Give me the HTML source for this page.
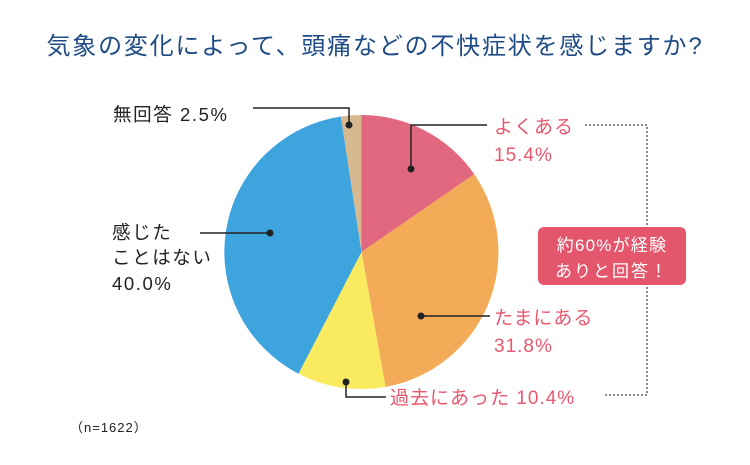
<!DOCTYPE html>
<html><head><meta charset="utf-8"><style>
body{margin:0;width:750px;height:460px;background:#fff;overflow:hidden;font-family:"Liberation Sans","Noto Sans CJK JP",sans-serif}
svg text{font-family:"Liberation Sans","Noto Sans CJK JP",sans-serif}
</style></head><body>
<svg width="750" height="460" viewBox="0 0 750 460">
<text x="375" y="54" text-anchor="middle" font-size="24" letter-spacing="1.8" fill="#1f4b86">気象の変化によって、頭痛などの不快症状を感じますか?</text>
<g stroke="none">
<path d="M361.5,252 L361.5,115 A137,137 0 0 1 474.3,174.3 Z" fill="#e2687f"/>
<path d="M361.5,252 L474.3,174.3 A137,137 0 0 1 385.5,386.9 Z" fill="#f4ab57"/>
<path d="M361.5,252 L385.5,386.9 A137,137 0 0 1 298.5,373.7 Z" fill="#faea60"/>
<path d="M361.5,252 L298.5,373.7 A137,137 0 0 1 340.9,116.5 Z" fill="#3ea4de"/>
<path d="M361.5,252 L340.9,116.5 A137,137 0 0 1 361.5,115 Z" fill="#d7b98f"/>
</g>
<g stroke="#222" stroke-width="1.5" fill="none">
<polyline points="411,169 411,125 487,125"/>
<polyline points="421,316 490,316"/>
<polyline points="346,382 346,397 386,397"/>
<polyline points="270,233 200,233"/>
<polyline points="349,125 349,108 253,108"/>
</g>
<g fill="#222"><circle cx="411" cy="169" r="3.5"/><circle cx="421" cy="316" r="3.5"/><circle cx="346" cy="382" r="3.5"/><circle cx="270" cy="233" r="3.5"/><circle cx="349" cy="125" r="3.5"/></g>
<g stroke="#888" stroke-width="2" stroke-dasharray="2,2" fill="none">
<polyline points="585,125 647,125 647,395 605,395"/>
</g>
<g fill="#e8586e" font-size="19" letter-spacing="1">
<text x="494" y="133">よくある</text><text x="494" y="161">15.4%</text>
<text x="494" y="324">たまにある</text><text x="494" y="352">31.8%</text>
<text x="390" y="404">過去にあった 10.4%</text>
</g>
<g fill="#222" font-size="18.5" letter-spacing="1.6">
<text x="113" y="121">無回答 2.5%</text>
<text x="112" y="239">感じた</text><text x="112" y="264">ことはない</text><text x="112" y="290">40.0%</text>
</g>
<rect x="538" y="227" width="148" height="58" rx="6" fill="#e3566b"/>
<text x="612" y="251" text-anchor="middle" font-size="17" letter-spacing="1.2" fill="#fff">約60%が経験</text>
<text x="612" y="277" text-anchor="middle" font-size="17" letter-spacing="2" fill="#fff">ありと回答！</text>
<text x="70" y="432" font-size="13" letter-spacing="1" fill="#222">（n=1622）</text>
</svg>
</body></html>
